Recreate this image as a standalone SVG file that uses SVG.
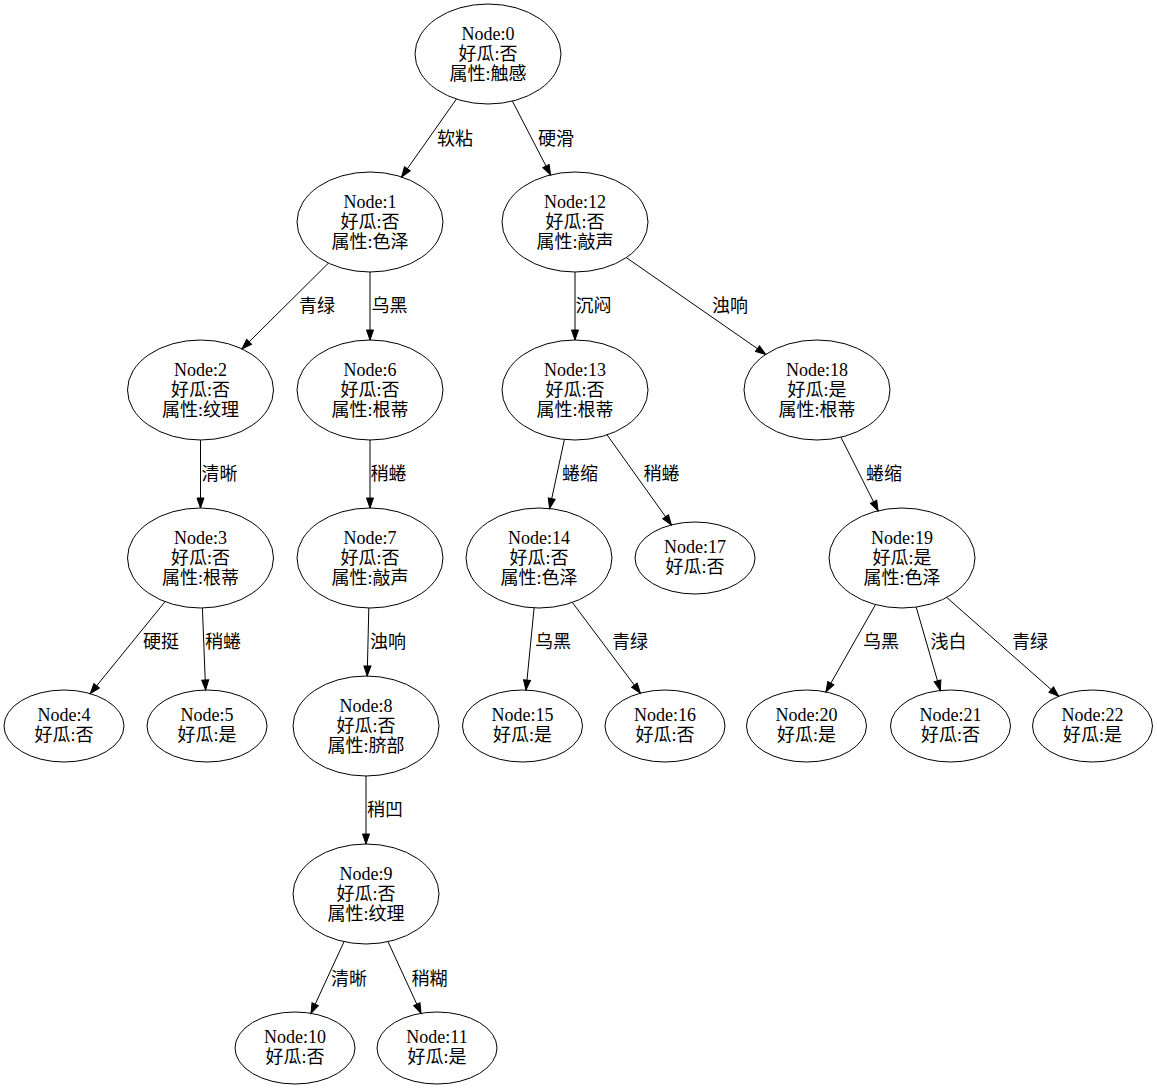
<svg xmlns="http://www.w3.org/2000/svg" width="1157" height="1090" viewBox="0 0 1157 1090">
<style>
text{font-family:"Liberation Serif","Noto Sans CJK SC",serif;font-size:18px;fill:#000;text-anchor:middle}
.n ellipse{fill:none;stroke:#000;stroke-width:1}
#edges line{stroke:#000;stroke-width:1;marker-end:url(#ah)}
</style>
<defs>
<marker id="ah" markerUnits="userSpaceOnUse" markerWidth="10" markerHeight="7" refX="10" refY="3.5" orient="auto" overflow="visible">
<path d="M0,0 L10,3.5 L0,7 Z" fill="#000" stroke="#000" stroke-width="1"/>
</marker>
</defs>
<rect width="1157" height="1090" fill="#fff"/>
<g id="edges">
<line x1="456.4" y1="99.1" x2="401.6" y2="176.9"/><text x="455" y="145">软粘</text>
<line x1="512.4" y1="101.1" x2="550.6" y2="174.9"/><text x="556" y="145">硬滑</text>
<line x1="328.5" y1="263.1" x2="242" y2="348.9"/><text x="317" y="311.5">青绿</text>
<line x1="370" y1="272" x2="370" y2="340"/><text x="389.5" y="311.5">乌黑</text>
<line x1="575" y1="272" x2="575" y2="340"/><text x="593.5" y="311.5">沉闷</text>
<line x1="626.3" y1="257.6" x2="765.7" y2="354.4"/><text x="730" y="311.5">浊响</text>
<line x1="200.5" y1="440" x2="200.5" y2="508"/><text x="219.5" y="480">清晰</text>
<line x1="370" y1="440" x2="370" y2="508"/><text x="388.5" y="480">稍蜷</text>
<line x1="564.4" y1="439.5" x2="549.6" y2="508.5"/><text x="580" y="480">蜷缩</text>
<line x1="607.1" y1="434.9" x2="671.4" y2="524.9"/><text x="661.5" y="480">稍蜷</text>
<line x1="840.9" y1="437.2" x2="878.1" y2="510.8"/><text x="884" y="480">蜷缩</text>
<line x1="165" y1="601.7" x2="90.3" y2="693.6"/><text x="161" y="648">硬挺</text>
<line x1="202.4" y1="608" x2="205.6" y2="690"/><text x="223" y="648">稍蜷</text>
<line x1="368.8" y1="608" x2="367.2" y2="676"/><text x="388" y="648">浊响</text>
<line x1="534.1" y1="607.9" x2="526" y2="690.1"/><text x="553" y="648">乌黑</text>
<line x1="572.4" y1="602.5" x2="640.4" y2="693.2"/><text x="630" y="648">青绿</text>
<line x1="875.5" y1="604.6" x2="825.9" y2="691.9"/><text x="881" y="648">乌黑</text>
<line x1="916.2" y1="607.1" x2="940.3" y2="690.5"/><text x="948.5" y="648">浅白</text>
<line x1="946.8" y1="597.5" x2="1058.7" y2="696.2"/><text x="1030" y="648">青绿</text>
<line x1="366" y1="776" x2="366" y2="844"/><text x="385" y="816">稍凹</text>
<line x1="344" y1="941.7" x2="311" y2="1013.3"/><text x="349" y="985">清晰</text>
<line x1="388" y1="941.7" x2="421" y2="1013.3"/><text x="429.5" y="985">稍糊</text>
</g>
<g id="node0" class="n"><ellipse cx="488" cy="54" rx="73" ry="50"/><text x="488" y="39.5">Node:0</text><text x="488" y="59.5">好瓜:否</text><text x="488" y="79.5">属性:触感</text></g>
<g id="node1" class="n"><ellipse cx="370" cy="222" rx="73" ry="50"/><text x="370" y="207.5">Node:1</text><text x="370" y="227.5">好瓜:否</text><text x="370" y="247.5">属性:色泽</text></g>
<g id="node12" class="n"><ellipse cx="575" cy="222" rx="73" ry="50"/><text x="575" y="207.5">Node:12</text><text x="575" y="227.5">好瓜:否</text><text x="575" y="247.5">属性:敲声</text></g>
<g id="node2" class="n"><ellipse cx="200.5" cy="390" rx="73" ry="50"/><text x="200.5" y="375.5">Node:2</text><text x="200.5" y="395.5">好瓜:否</text><text x="200.5" y="415.5">属性:纹理</text></g>
<g id="node6" class="n"><ellipse cx="370" cy="390" rx="73" ry="50"/><text x="370" y="375.5">Node:6</text><text x="370" y="395.5">好瓜:否</text><text x="370" y="415.5">属性:根蒂</text></g>
<g id="node13" class="n"><ellipse cx="575" cy="390" rx="73" ry="50"/><text x="575" y="375.5">Node:13</text><text x="575" y="395.5">好瓜:否</text><text x="575" y="415.5">属性:根蒂</text></g>
<g id="node18" class="n"><ellipse cx="817" cy="390" rx="73" ry="50"/><text x="817" y="375.5">Node:18</text><text x="817" y="395.5">好瓜:是</text><text x="817" y="415.5">属性:根蒂</text></g>
<g id="node3" class="n"><ellipse cx="200.5" cy="558" rx="73" ry="50"/><text x="200.5" y="543.5">Node:3</text><text x="200.5" y="563.5">好瓜:否</text><text x="200.5" y="583.5">属性:根蒂</text></g>
<g id="node7" class="n"><ellipse cx="370" cy="558" rx="73" ry="50"/><text x="370" y="543.5">Node:7</text><text x="370" y="563.5">好瓜:否</text><text x="370" y="583.5">属性:敲声</text></g>
<g id="node14" class="n"><ellipse cx="539" cy="558" rx="73" ry="50"/><text x="539" y="543.5">Node:14</text><text x="539" y="563.5">好瓜:否</text><text x="539" y="583.5">属性:色泽</text></g>
<g id="node17" class="n"><ellipse cx="695" cy="558" rx="60" ry="36"/><text x="695" y="553">Node:17</text><text x="695" y="573">好瓜:否</text></g>
<g id="node19" class="n"><ellipse cx="902" cy="558" rx="73" ry="50"/><text x="902" y="543.5">Node:19</text><text x="902" y="563.5">好瓜:是</text><text x="902" y="583.5">属性:色泽</text></g>
<g id="node4" class="n"><ellipse cx="64" cy="726" rx="60" ry="36"/><text x="64" y="721">Node:4</text><text x="64" y="741">好瓜:否</text></g>
<g id="node5" class="n"><ellipse cx="207" cy="726" rx="60" ry="36"/><text x="207" y="721">Node:5</text><text x="207" y="741">好瓜:是</text></g>
<g id="node8" class="n"><ellipse cx="366" cy="726" rx="73" ry="50"/><text x="366" y="711.5">Node:8</text><text x="366" y="731.5">好瓜:否</text><text x="366" y="751.5">属性:脐部</text></g>
<g id="node15" class="n"><ellipse cx="522.5" cy="726" rx="60" ry="36"/><text x="522.5" y="721">Node:15</text><text x="522.5" y="741">好瓜:是</text></g>
<g id="node16" class="n"><ellipse cx="665" cy="726" rx="60" ry="36"/><text x="665" y="721">Node:16</text><text x="665" y="741">好瓜:否</text></g>
<g id="node20" class="n"><ellipse cx="806.5" cy="726" rx="60" ry="36"/><text x="806.5" y="721">Node:20</text><text x="806.5" y="741">好瓜:是</text></g>
<g id="node21" class="n"><ellipse cx="950.5" cy="726" rx="60" ry="36"/><text x="950.5" y="721">Node:21</text><text x="950.5" y="741">好瓜:否</text></g>
<g id="node22" class="n"><ellipse cx="1092.5" cy="726" rx="60" ry="36"/><text x="1092.5" y="721">Node:22</text><text x="1092.5" y="741">好瓜:是</text></g>
<g id="node9" class="n"><ellipse cx="366" cy="894" rx="73" ry="50"/><text x="366" y="879.5">Node:9</text><text x="366" y="899.5">好瓜:否</text><text x="366" y="919.5">属性:纹理</text></g>
<g id="node10" class="n"><ellipse cx="295" cy="1048" rx="60" ry="36"/><text x="295" y="1043">Node:10</text><text x="295" y="1063">好瓜:否</text></g>
<g id="node11" class="n"><ellipse cx="437" cy="1048" rx="60" ry="36"/><text x="437" y="1043">Node:11</text><text x="437" y="1063">好瓜:是</text></g>
</svg>
